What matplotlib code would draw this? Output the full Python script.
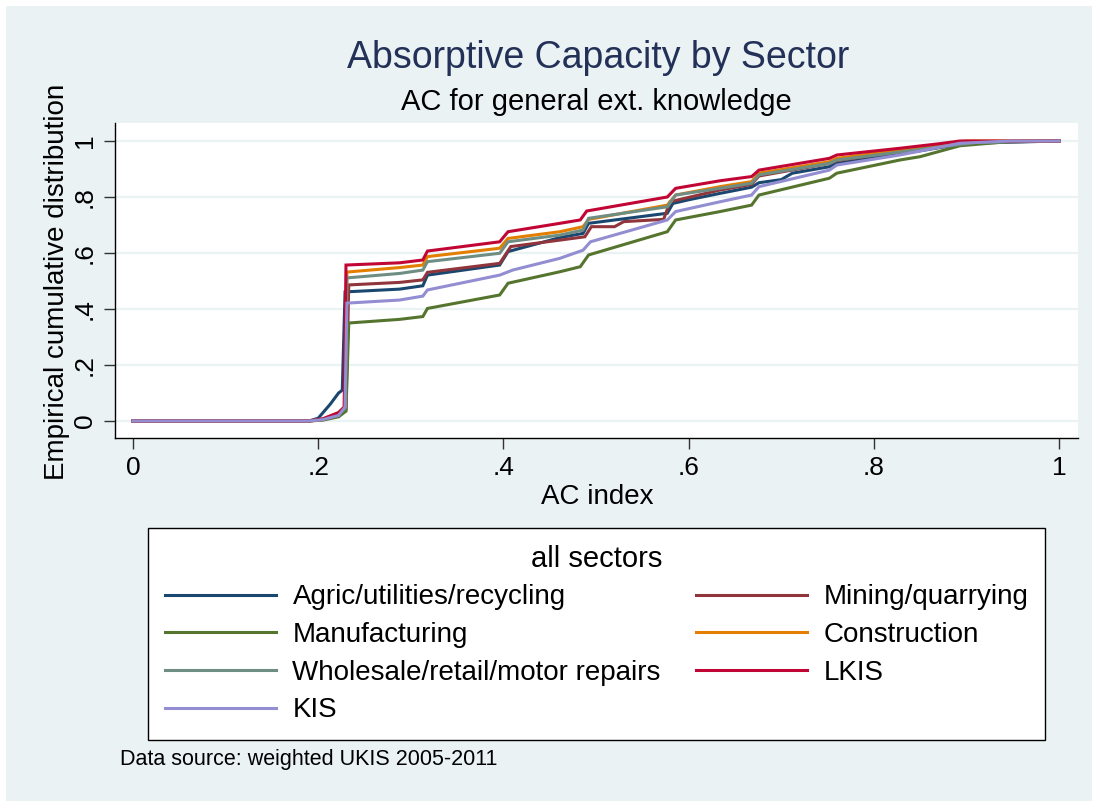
import matplotlib
matplotlib.use("Agg")
import matplotlib.pyplot as plt
from matplotlib.patches import Rectangle

plt.rcParams['font.family'] = ['Liberation Sans', 'DejaVu Sans']

# empirical CDF of the AC index, knots per sector
agric_x = [0, 0.19, 0.20, 0.213, 0.222, 0.226, 0.229, 0.288, 0.313, 0.318, 0.396, 0.405, 0.461,
           0.486, 0.492, 0.577, 0.583, 0.60, 0.634, 0.668, 0.676, 0.70, 0.712, 0.752, 0.76,
           0.85, 0.90, 1.0]
agric_y = [0, 0, 0.01, 0.06, 0.10, 0.11, 0.461, 0.471, 0.483, 0.521, 0.557, 0.605, 0.655,
           0.67, 0.706, 0.742, 0.777, 0.79, 0.813, 0.835, 0.851, 0.862, 0.885, 0.908, 0.92,
           0.965, 0.992, 1.0]

mining_x = [0, 0.19, 0.205, 0.222, 0.230, 0.233, 0.288, 0.313, 0.318, 0.396, 0.408, 0.461,
            0.488, 0.495, 0.52, 0.53, 0.573, 0.58, 0.634, 0.668, 0.676, 0.752, 0.76, 0.85,
            0.90, 1.0]
mining_y = [0, 0, 0.005, 0.02, 0.04, 0.486, 0.495, 0.504, 0.531, 0.563, 0.623, 0.646,
            0.658, 0.694, 0.694, 0.712, 0.72, 0.783, 0.825, 0.845, 0.875, 0.92, 0.93, 0.972,
            0.995, 1.0]

manuf_x = [0, 0.19, 0.205, 0.222, 0.230, 0.233, 0.288, 0.313, 0.318, 0.396, 0.405, 0.461,
           0.483, 0.492, 0.577, 0.586, 0.634, 0.668, 0.676, 0.752, 0.76, 0.828, 0.85, 0.893,
           0.947, 0.96, 1.0]
manuf_y = [0, 0, 0.003, 0.015, 0.035, 0.35, 0.363, 0.373, 0.402, 0.45, 0.492, 0.533,
           0.551, 0.593, 0.676, 0.718, 0.748, 0.771, 0.807, 0.867, 0.885, 0.932, 0.944, 0.983,
           0.998, 1.0, 1.0]

constr_x = [0, 0.19, 0.205, 0.222, 0.229, 0.231, 0.288, 0.313, 0.318, 0.396, 0.405, 0.461,
            0.486, 0.492, 0.577, 0.586, 0.634, 0.668, 0.676, 0.752, 0.76, 0.85, 0.90, 1.0]
constr_y = [0, 0, 0.006, 0.03, 0.05, 0.532, 0.548, 0.557, 0.587, 0.617, 0.652, 0.676,
            0.694, 0.72, 0.771, 0.807, 0.837, 0.855, 0.885, 0.926, 0.938, 0.977, 1.0, 1.0]

whole_x = [0, 0.19, 0.205, 0.222, 0.229, 0.231, 0.288, 0.313, 0.318, 0.396, 0.405, 0.461,
           0.486, 0.492, 0.577, 0.586, 0.634, 0.668, 0.676, 0.752, 0.76, 0.85, 0.91, 1.0]
whole_y = [0, 0, 0.006, 0.025, 0.045, 0.511, 0.527, 0.539, 0.569, 0.599, 0.640, 0.664,
           0.682, 0.724, 0.765, 0.807, 0.831, 0.849, 0.879, 0.92, 0.932, 0.97, 0.995, 1.0]

lkis_x = [0, 0.19, 0.205, 0.222, 0.228, 0.230, 0.288, 0.313, 0.318, 0.396, 0.405, 0.461,
          0.483, 0.49, 0.577, 0.586, 0.634, 0.668, 0.676, 0.752, 0.76, 0.828, 0.87, 0.893, 1.0]
lkis_y = [0, 0, 0.008, 0.03, 0.05, 0.557, 0.565, 0.575, 0.607, 0.64, 0.676, 0.706,
          0.718, 0.75, 0.80, 0.831, 0.858, 0.873, 0.896, 0.938, 0.95, 0.974, 0.99, 1.0, 1.0]

kis_x = [0, 0.19, 0.205, 0.222, 0.229, 0.231, 0.288, 0.313, 0.318, 0.396, 0.41, 0.461,
         0.486, 0.494, 0.577, 0.586, 0.634, 0.668, 0.676, 0.752, 0.76, 0.828, 0.893, 0.947, 1.0]
kis_y = [0, 0, 0.005, 0.02, 0.05, 0.421, 0.432, 0.446, 0.468, 0.521, 0.539, 0.581,
         0.61, 0.64, 0.718, 0.748, 0.783, 0.807, 0.837, 0.896, 0.914, 0.95, 0.992, 1.0, 1.0]

ticks = [0, 0.2, 0.4, 0.6, 0.8, 1]
tick_labels = ['0', '.2', '.4', '.6', '.8', '1']

series = [
    ('Agric/utilities/recycling', agric_x, agric_y, '#1A476F'),
    ('Mining/quarrying', mining_x, mining_y, '#90353B'),
    ('Manufacturing', manuf_x, manuf_y, '#55752F'),
    ('Construction', constr_x, constr_y, '#E37E00'),
    ('Wholesale/retail/motor repairs', whole_x, whole_y, '#6E8E84'),
    ('LKIS', lkis_x, lkis_y, '#C10534'),
    ('KIS', kis_x, kis_y, '#938DD2'),
]

W, H = 1098, 801
fig = plt.figure(figsize=(W / 100, H / 100), dpi=100, facecolor='white')
fig.patches.append(Rectangle((6 / W, 0), 1 - 12 / W, 1 - 6 / H, transform=fig.transFigure,
                             facecolor='#EAF2F3', edgecolor='none', zorder=-10))

ax = fig.add_axes([115 / W, 1 - 438 / H, 963 / W, 315 / H])
ax.set_facecolor('white')

lines = {}
for name, xs, ys, col in series:
    ln, = ax.plot(xs, ys, color=col, lw=2.2, label=name, solid_joinstyle='miter')
    lines[name] = ln

ax.set_xlim(-18 / 926, 1 + 19 / 926)
ax.set_ylim(-17 / 280, 1 + 18 / 280)
ax.set_xticks(ticks)
ax.set_xticklabels(tick_labels)
ax.set_yticks(ticks)
ax.set_yticklabels(tick_labels, rotation=90, va='center')
ax.tick_params(axis='both', length=8, width=1, color='#333333', labelsize=19, pad=5)
ax.yaxis.grid(True, color='#EAF2F3', lw=1.6)
ax.set_axisbelow(True)
for s in ['top', 'right']:
    ax.spines[s].set_visible(False)
for s in ['left', 'bottom']:
    ax.spines[s].set_color('black')
    ax.spines[s].set_linewidth(1.0)

fig.text(598 / W, 1 - 58 / H, 'Absorptive Capacity by Sector', ha='center', va='center',
         fontsize=27, color='#233158')
fig.text(596 / W, 1 - 102 / H, 'AC for general ext. knowledge', ha='center', va='center',
         fontsize=21, color='black')
fig.text(597 / W, 1 - 497 / H, 'AC index', ha='center', va='center', fontsize=20)
fig.text(57 / W, 1 - 282 / H, 'Empirical cumulative distribution', ha='center', va='center',
         rotation=90, fontsize=20)
fig.text(120 / W, 1 - 760 / H, 'Data source: weighted UKIS 2005-2011', ha='left', va='center',
         fontsize=15.5)

order = ['Agric/utilities/recycling', 'Manufacturing', 'Wholesale/retail/motor repairs', 'KIS',
         'Mining/quarrying', 'Construction', 'LKIS']
leg = fig.legend([lines[n] for n in order], order, loc='upper left',
                 bbox_to_anchor=(148 / W, 1 - 528 / H, 897 / W, 0), mode='expand', ncol=2,
                 fontsize=20, title='all sectors', title_fontsize=21, frameon=True,
                 fancybox=False, edgecolor='black', facecolor='white', framealpha=1,
                 handlelength=4.0, handletextpad=0.6, labelspacing=0.42, borderpad=0.6,
                 borderaxespad=0)
leg.get_frame().set_linewidth(1.0)

fig.savefig('out.png', dpi=100, facecolor=fig.get_facecolor())
